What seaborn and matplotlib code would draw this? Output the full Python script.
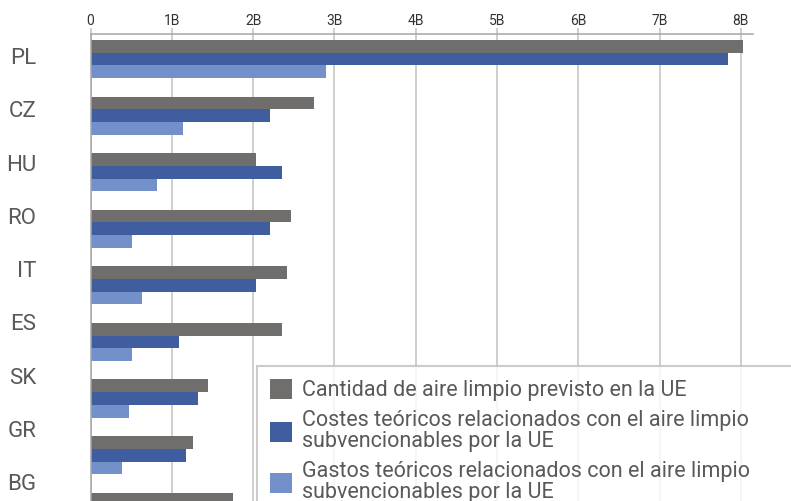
import matplotlib
matplotlib.use("Agg")
import matplotlib.pyplot as plt
from matplotlib.patches import Patch
import seaborn as sns
import pandas as pd

# data (values in billions of euros)
paises = ["PL", "CZ", "HU", "RO", "IT", "ES", "SK", "GR", "BG"]
cantidad = [8.03, 2.75, 2.04, 2.47, 2.42, 2.36, 1.45, 1.26, 1.75]
costes = [7.84, 2.21, 2.36, 2.21, 2.04, 1.09, 1.32, 1.18, 1.40]
gastos = [2.90, 1.14, 0.82, 0.51, 0.63, 0.51, 0.47, 0.39, 0.45]
series = ["Cantidad de aire limpio previsto en la UE",
          "Costes teóricos relacionados con el aire limpio\nsubvencionables por la UE",
          "Gastos teóricos relacionados con el aire limpio\nsubvencionables por la UE"]
xticks = [0, 1, 2, 3, 4, 5, 6, 7, 8]
xtick_labels = ["0", "1B", "2B", "3B", "4B", "5B", "6B", "7B", "8B"]
colores = ["#6f6e6c", "#405e9f", "#7490ca"]

df = pd.DataFrame({
    "pais": paises * 3,
    "serie": [series[0]] * 9 + [series[1]] * 9 + [series[2]] * 9,
    "valor": cantidad + costes + gastos,
})

sns.set_style("white")
plt.rcParams['font.family'] = ['Roboto', 'DejaVu Sans']

fig = plt.figure(figsize=(7.91, 5.01), dpi=100)
ax = fig.add_axes([90.5 / 791, 0, (753 - 90.5) / 791, 1 - 34 / 501])

sns.barplot(data=df, x="valor", y="pais", hue="serie", palette=colores,
            orient="h", width=0.675, ax=ax, legend=False, saturation=1,
            linewidth=0, edgecolor="none")

ax.set_xlim(0, 8.15)
ax.set_ylim(7.81, -0.442)
ax.xaxis.tick_top()
ax.set_xticks(xticks, xtick_labels)
# category labels in the original drift slightly from the bar groups
ax.set_yticks([-0.053 + 0.941 * i for i in range(len(paises))], paises)
ax.set_xlabel("")
ax.set_ylabel("")

ax.grid(axis="x", color="#c6c6c6", linewidth=1.2)
ax.set_axisbelow(True)
for s in ["right", "bottom"]:
    ax.spines[s].set_visible(False)
ax.spines["top"].set_color("#a6a6a6")
ax.spines["top"].set_linewidth(1.1)
ax.spines["left"].set_color("#a6a6a6")
ax.spines["left"].set_linewidth(1.1)

ax.tick_params(axis="x", direction="out", length=4.5, width=1.2, color="#c6c6c6",
               labelsize=10, labelcolor="#333333", pad=0)
ax.tick_params(axis="y", length=0, labelsize=16, labelcolor="#595959", pad=39)

handles = [Patch(facecolor=c, edgecolor="none") for c in colores]
leg = fig.legend(handles, series, loc="upper left",
                 bbox_to_anchor=(257 / 791, 1 - 366 / 501 - 0.1, 0.8, 0.1), mode="expand",
                 fontsize=15.5, frameon=True, fancybox=False, edgecolor="#bfbfbf",
                 handlelength=1.0, handleheight=1.0, handletextpad=0.45,
                 labelspacing=0.42, borderpad=0.62, borderaxespad=0)
leg.get_frame().set_linewidth(1.5)
for t in leg.get_texts():
    t.set_color("#595959")
    t.set_linespacing(1.0)

fig.savefig("out.png", dpi=100)
